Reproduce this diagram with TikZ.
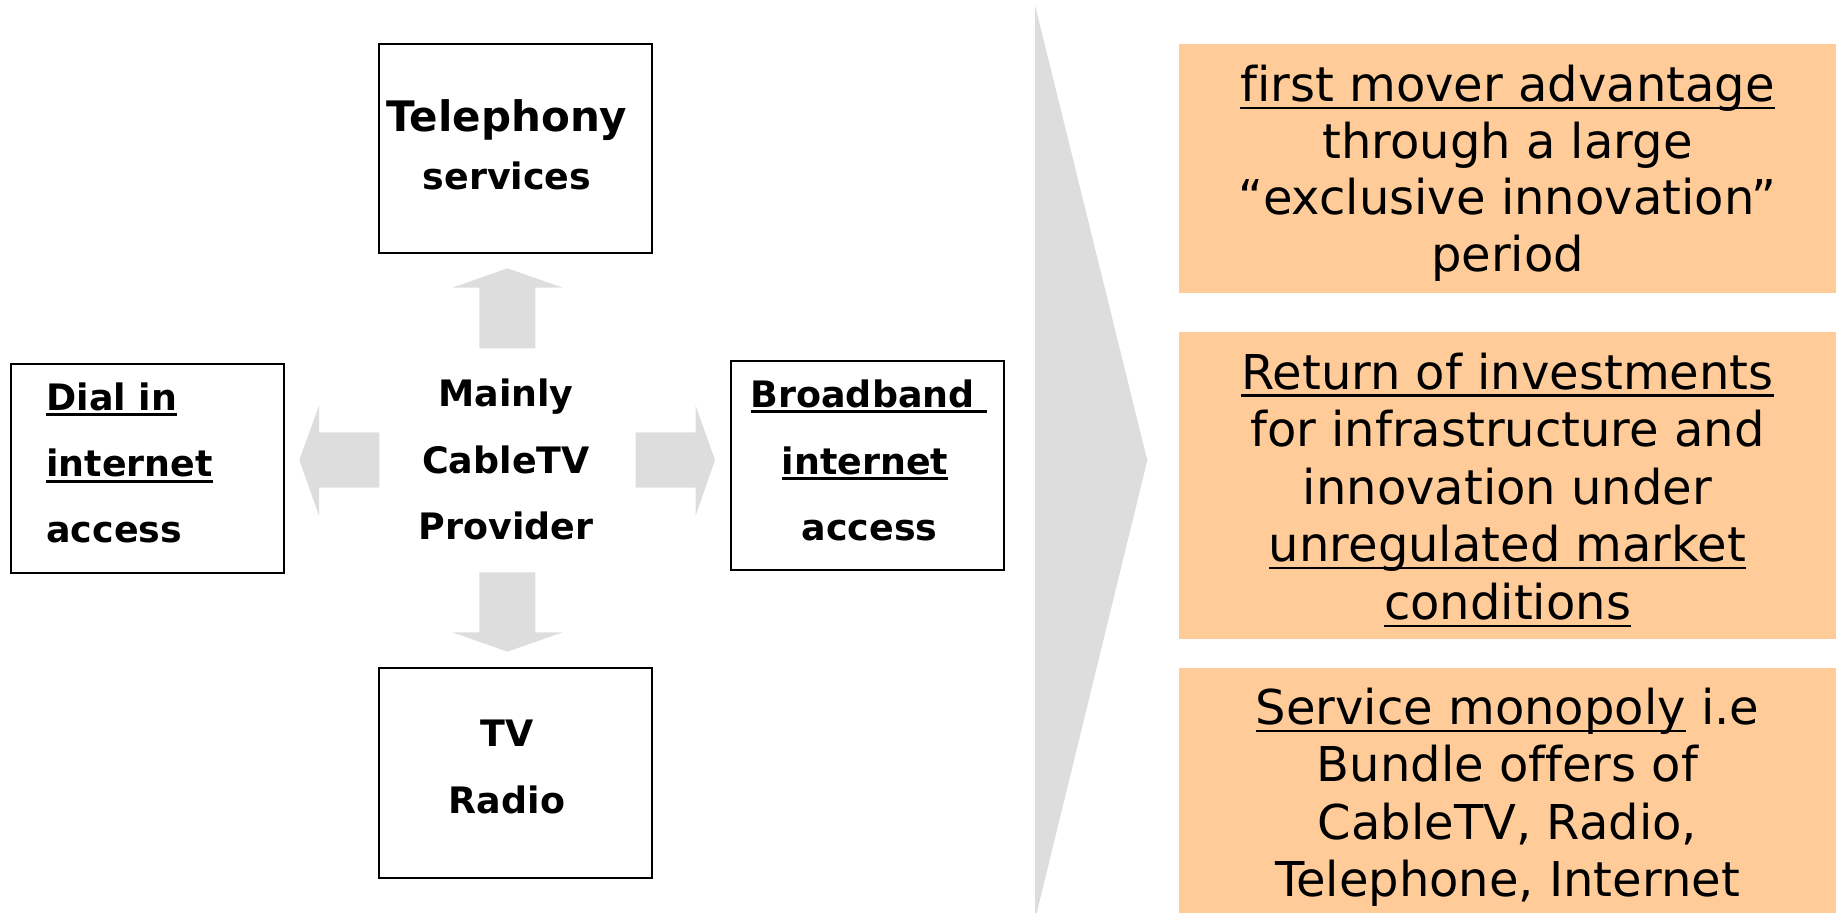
\documentclass[tikz,border=0pt]{standalone}
\usepackage{fontspec}
\setmainfont{DejaVu Sans}[Ligatures=NoCommon]
\definecolor{blockgray}{HTML}{DDDDDD}
\definecolor{peach}{HTML}{FFCC99}
% underlines at a fixed depth below the baseline
\newcommand\ulreg[1]{\setbox0\hbox{#1}\rlap{\rule[-0.15em]{\wd0}{0.05em}}\box0\relax}
\newcommand\ulbold[1]{\setbox0\hbox{#1}\rlap{\rule[-0.16em]{\wd0}{0.08em}}\box0\relax}
\tikzset{
  frame/.style={draw=black, line width=1pt, inner sep=0pt,
    minimum width=136.5pt, minimum height=104.5pt},
  peachbox/.style={fill=peach, inner sep=0pt, minimum width=328.5pt},
  bline/.style={anchor=base, inner sep=0pt,
    font=\bfseries\fontsize{18.2pt}{22pt}\selectfont},
  bigline/.style={anchor=base, inner sep=0pt,
    font=\bfseries\fontsize{21pt}{25pt}\selectfont},
  rline/.style={anchor=base, inner sep=0pt,
    font=\fontsize{24pt}{29pt}\selectfont},
}
\begin{document}
\begin{tikzpicture}[x=0.5pt, y=-0.5pt]
\useasboundingbox (0,0) rectangle (1838,913);

% chevron separating the two halves
\fill[blockgray] (1035,5) -- (1147.3,460.5) -- (1035,920) -- cycle;

% outlined service boxes
\node[frame] (tel) at (515.5,148.5) {};
\node[frame] (dial) at (147.5,468.5) {};
\node[frame] (bb) at (867.5,465.5) {};
\node[frame, minimum height=105pt] (tv) at (515.5,773) {};

% block arrows pointing out of the provider
\fill[blockgray] (479.3,348.3) -- (479.3,287.7) -- (452.3,287.7) -- (507.5,268.3)
  -- (562.7,287.7) -- (535.3,287.7) -- (535.3,348.3) -- cycle;
\fill[blockgray] (479.3,572.3) -- (479.3,632.3) -- (452.3,632.3) -- (507.5,651.7)
  -- (562.7,632.3) -- (535.3,632.3) -- (535.3,572.3) -- cycle;
\fill[blockgray] (379.3,432.3) -- (319,432.3) -- (319,405.7) -- (299.3,460)
  -- (319,515.7) -- (319,487.7) -- (379.3,487.7) -- cycle;
\fill[blockgray] (635.7,432.3) -- (695.7,432.3) -- (695.7,405.7) -- (715,460)
  -- (695.7,515.7) -- (695.7,487.7) -- (635.7,487.7) -- cycle;

% box texts
\node[bigline] (tel1) at (507,132) {Telephony};
\node[bline] (tel2) at (507,190) {services};

\node[bline, anchor=base west] (dial1) at (46,410.5) {\ulbold{Dial in}};
\node[bline, anchor=base west] (dial2) at (46,477) {\ulbold{internet}};
\node[bline, anchor=base west] (dial3) at (46,543) {access};

\node[bline] (bb1) at (869,407.5) {\ulbold{Broadband\ }};
\node[bline] (bb2) at (865,474.5) {\ulbold{internet}};
\node[bline] (bb3) at (869.5,540.5) {access};

\node[bline] (mid1) at (506,406.5) {Mainly};
\node[bline] (mid2) at (506,473.3) {CableTV};
\node[bline] (mid3) at (506,540) {Provider};

\node[bline] (tv1) at (507,747) {TV};
\node[bline] (tv2) at (507,814) {Radio};

% consequences on the right
\node[peachbox, minimum height=124.5pt] (c1) at (1507.5,168.5) {};
\node[peachbox, minimum height=153.5pt] (c2) at (1507.5,485.5) {};
\node[peachbox, minimum height=122.5pt] (c3) at (1507.5,790.5) {};

\node[rline] (c1a) at (1507.5,102) {\ulreg{first mover advantage}};
\node[rline] (c1b) at (1507.5,158.5) {through a large};
\node[rline] (c1c) at (1507.5,215) {“exclusive innovation”};
\node[rline] (c1d) at (1507.5,271.5) {period};

\node[rline] (c2a) at (1507.5,389.5) {\ulreg{Return of investments}};
\node[rline] (c2b) at (1507.5,447) {for infrastructure and};
\node[rline] (c2c) at (1507.5,504.5) {innovation under};
\node[rline] (c2d) at (1507.5,562) {\ulreg{unregulated market}};
\node[rline] (c2e) at (1507.5,620) {\ulreg{conditions}};

\node[rline] (c3a) at (1507.5,725) {\ulreg{Service monopoly} i.e};
\node[rline] (c3b) at (1507.5,782) {Bundle offers of};
\node[rline] (c3c) at (1507.5,840) {CableTV, Radio,};
\node[rline] (c3d) at (1507.5,897) {Telephone, Internet};
\end{tikzpicture}
\end{document}
